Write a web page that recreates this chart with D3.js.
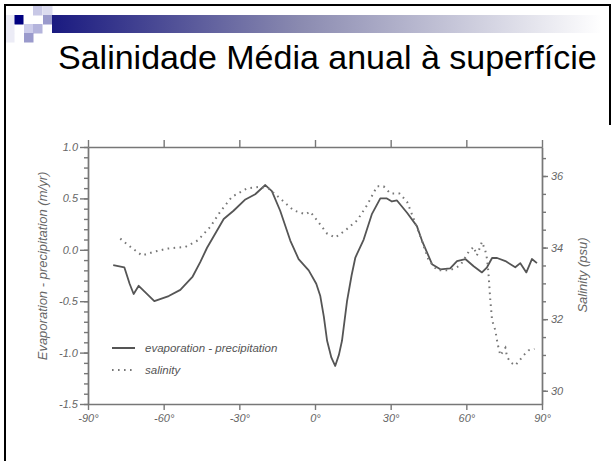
<!DOCTYPE html>
<html>
<head>
<meta charset="utf-8">
<script src="https://cdn.jsdelivr.net/npm/d3@7"></script>
<style>
  body { margin: 0; background: #fff; }
  svg { display: block; font-family: "Liberation Sans", Arial, sans-serif; }
  .axis path, .axis line { stroke: #777; stroke-width: 1.4; }
  .axis text { fill: #666; font-style: italic; font-size: 11px; }
  .axis-label { fill: #666; font-style: italic; font-size: 13px; }
  .legend-text { fill: #555; font-style: italic; font-size: 11.5px; }
</style>
</head>
<body>
<script>
// evaporation - precipitation (m/yr) by latitude
const epLat = [-80, -75.6, -73.5, -71.9, -69.9, -63.7, -58, -53.4, -48.5, -45.5, -42.8, -39, -36.2, -32.3,
  -27.6, -23.7, -19.7, -17.1, -13.8, -9.8, -6.5, -2.5, 0.5, 2.1, 3.5, 4.8, 6.5, 8, 9.5, 10.7, 12.7, 14.5,
  16, 19.3, 22.6, 25.9, 28.5, 30.5, 32.5, 36.5, 40.4, 42.4, 46.4, 49.7, 53.6, 56.3, 59.6, 62.9, 66.2,
  68.2, 70.2, 72.2, 75.5, 79.4, 81.4, 83.8, 86, 88];
const epVal = [-0.15, -0.17, -0.33, -0.43, -0.35, -0.5, -0.45, -0.39, -0.26, -0.12, 0.02, 0.18, 0.3, 0.38,
  0.49, 0.54, 0.63, 0.57, 0.38, 0.09, -0.09, -0.2, -0.33, -0.45, -0.65, -0.885, -1.05, -1.13, -1.02, -0.885,
  -0.5, -0.25, -0.075, 0.1, 0.35, 0.5, 0.5, 0.47, 0.48, 0.36, 0.23, 0.09, -0.14, -0.19, -0.18, -0.11,
  -0.09, -0.16, -0.22, -0.17, -0.08, -0.08, -0.11, -0.17, -0.13, -0.22, -0.09, -0.13];

// salinity (psu) by latitude
const salLat = [-77.2, -73.9, -68.6, -64, -58.7, -51.4, -46.5, -41.5, -37.6, -32.9, -27, -21.7, -18.4,
  -13.8, -8.5, -3.8, -1.9, 0.8, 4.8, 8, 12, 16.7, 20.6, 24.6, 27.2, 29.9, 33.5, 36.5, 39.1, 41.8, 45.1,
  48.4, 53.6, 57.6, 60.9, 62.9, 64.2, 66.2, 67.5, 68.2, 68.8, 69.5, 70.2, 71.5, 72.4, 73.5, 75.5, 76.1,
  77.4, 79.4, 81.1, 82.7, 84.7, 87];
const salVal = [34.25, 34.06, 33.78, 33.88, 33.97, 34.02, 34.2, 34.58, 35.0, 35.42, 35.65, 35.7, 35.65,
  35.37, 35.04, 34.93, 35.0, 34.76, 34.39, 34.28, 34.48, 34.76, 35.18, 35.71, 35.71, 35.51, 35.51, 35.28,
  34.81, 34.3, 33.64, 33.37, 33.37, 33.5, 33.88, 34.02, 33.78, 34.16, 33.92, 33.69, 33.27, 32.53, 31.97,
  31.69, 31.31, 30.99, 31.2, 30.96, 30.8, 30.71, 30.85, 30.99, 31.13, 31.17];

// tick labels
const latTicks = [-90, -60, -30, 0, 30, 60, 90];
const epTicks = [-1.5, -1.0, -0.5, 0.0, 0.5, 1.0];
const salTicks = [30, 32, 34, 36];

const title = "Salinidade Média anual à superfície";
const legendNames = ["evaporation - precipitation", "salinity"];

const W = 612, H = 461;
const svg = d3.select("body").append("svg").attr("width", W).attr("height", H);

// slide decoration
const sq = [
  [14, 15, "#000080"], [33, 6, "#c8c8e6"], [43, 6, "#dcdcef"], [43, 15, "#9a9acc"],
  [5, 15, "#ececf6"], [5, 24, "#ececf6"], [5, 33, "#ececf6"], [24, 24, "#ccccea"], [33, 24, "#b4b4dc"],
  [24, 33, "#9a9acc"]
];
svg.selectAll("rect.sq").data(sq).enter().append("rect")
  .attr("x", d => d[0]).attr("y", d => d[1]).attr("width", 9.5).attr("height", 9.5)
  .attr("fill", d => d[2]);

const grad = svg.append("defs").append("linearGradient").attr("id", "bar");
grad.append("stop").attr("offset", "0%").attr("stop-color", "#1a1a80");
grad.append("stop").attr("offset", "45%").attr("stop-color", "#8a8ab0");
grad.append("stop").attr("offset", "100%").attr("stop-color", "#ffffff");
svg.append("rect").attr("x", 52).attr("y", 15).attr("width", 550).attr("height", 18).attr("fill", "url(#bar)");

svg.append("path").attr("d", "M5,470 V5 H610 V125").attr("fill", "none").attr("stroke", "#000").attr("stroke-width", 2);

svg.append("text").attr("x", 58).attr("y", 69).attr("font-size", 34).attr("fill", "#000").text(title);

// scales
const x = d3.scaleLinear().domain([-90, 90]).range([88, 542]);
const yL = d3.scaleLinear().domain([-1.5, 1.0]).range([404, 147]);
const yR = d3.scaleLinear().domain([29.63, 36.81]).range([404, 147]);

const fmt = d => d3.format(".1f")(d).replace("−", "-");

// axes
svg.append("g").attr("class", "axis").attr("transform", "translate(88,0)")
  .call(d3.axisLeft(yL).tickValues(d3.range(-15, 11).map(d => d / 10)).tickSize(4).tickSizeOuter(0).tickFormat(""));
svg.append("g").attr("class", "axis").attr("transform", "translate(88,0)")
  .call(d3.axisLeft(yL).tickValues(epTicks).tickSize(8).tickPadding(2).tickSizeOuter(0).tickFormat(fmt));

svg.append("g").attr("class", "axis").attr("transform", "translate(542,0)")
  .call(d3.axisRight(yR).tickValues(d3.range(30, 37, 0.5)).tickSize(4).tickSizeOuter(0).tickFormat(""));
svg.append("g").attr("class", "axis").attr("transform", "translate(542,0)")
  .call(d3.axisRight(yR).tickValues(salTicks).tickSize(6).tickPadding(3).tickSizeOuter(0));

svg.append("g").attr("class", "axis").attr("transform", "translate(0,404)")
  .call(d3.axisBottom(x).tickValues(latTicks).tickSize(6).tickPadding(4).tickSizeOuter(0).tickFormat(d => d + "°"));
svg.append("g").attr("class", "axis").attr("transform", "translate(0,147)")
  .call(d3.axisTop(x).tickValues(latTicks).tickSize(7).tickSizeOuter(0).tickFormat(""));

svg.selectAll(".axis .domain").attr("stroke", "#777");

// axis labels
svg.append("text").attr("class", "axis-label").attr("text-anchor", "middle")
  .attr("transform", "translate(47,266) rotate(-90)").text("Evaporation - precipitation (m/yr)");
svg.append("text").attr("class", "axis-label").attr("text-anchor", "middle")
  .attr("transform", "translate(587,275) rotate(-90)").text("Salinity (psu)");

// lines
const epLine = d3.line().x((d, i) => x(epLat[i])).y(d => yL(d));
svg.append("path").attr("d", epLine(epVal)).attr("fill", "none")
  .attr("stroke", "#555").attr("stroke-width", 1.8).attr("stroke-linejoin", "round");

const salLine = d3.line().x((d, i) => x(salLat[i])).y(d => yR(d));
svg.append("path").attr("d", salLine(salVal)).attr("fill", "none")
  .attr("stroke", "#777").attr("stroke-width", 2).attr("stroke-dasharray", "1.6,4.4");

// legend
const lg = svg.append("g");
legendNames.forEach((name, i) => {
  const ly = 348 + i * 22;
  lg.append("line").attr("x1", 112).attr("x2", 135).attr("y1", ly).attr("y2", ly)
    .attr("stroke", i ? "#777" : "#555").attr("stroke-width", 2)
    .attr("stroke-dasharray", i ? "1.6,4.4" : null);
  lg.append("text").attr("class", "legend-text").attr("x", 145).attr("y", ly + 4).text(name);
});
</script>
</body>
</html>
